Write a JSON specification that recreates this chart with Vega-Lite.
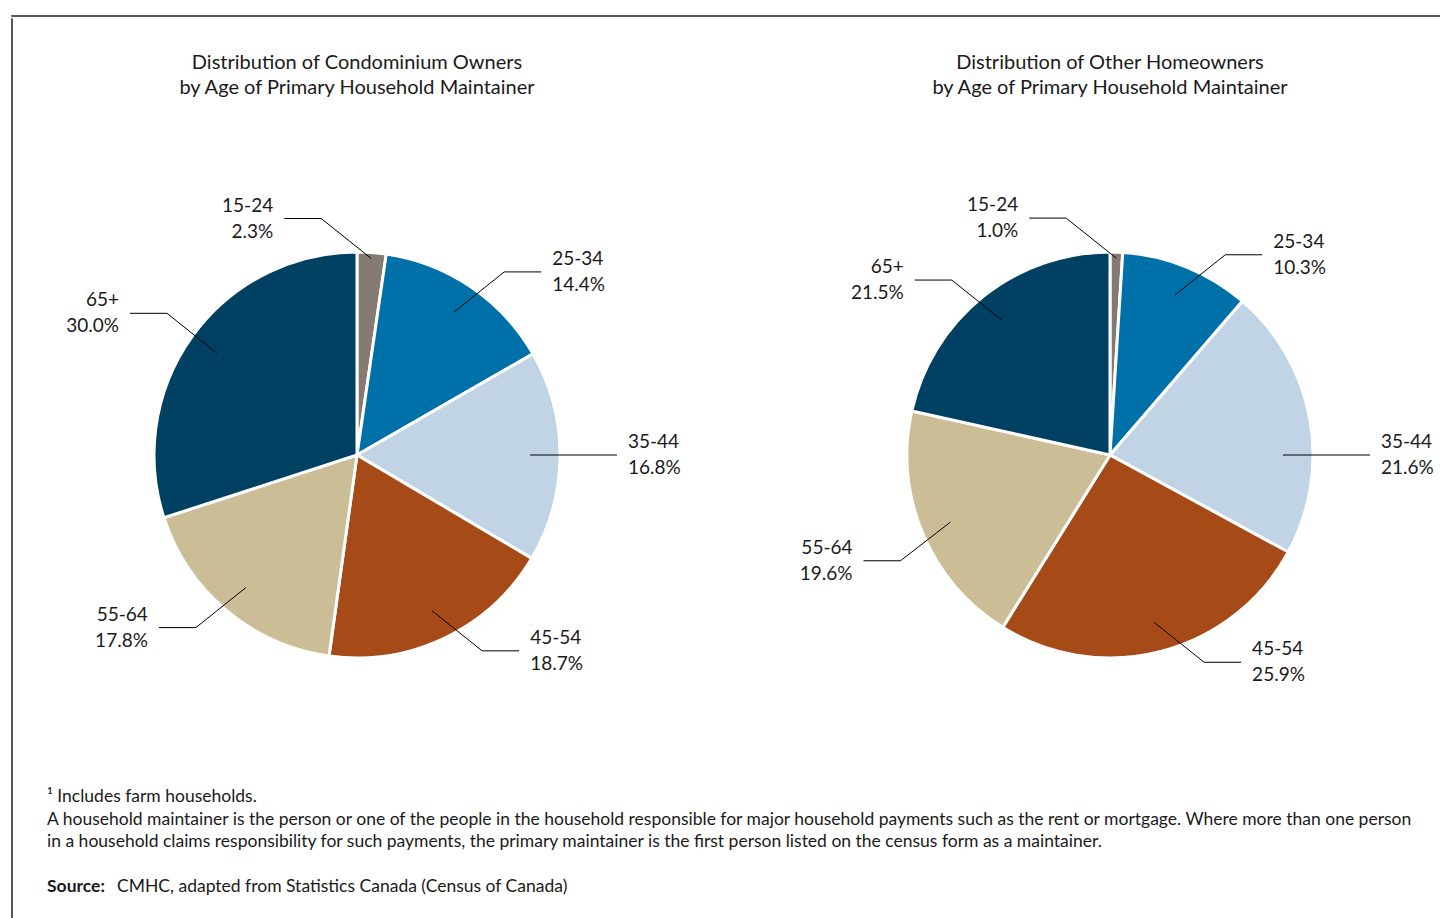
{
  "$schema": "https://vega.github.io/schema/vega-lite/v6.json",
  "padding": {"left": 10, "top": 14, "right": 0, "bottom": 0},
  "background": "white",
  "config": {"view": {"stroke": null}, "font": "Lato"},
  "datasets": {
    "pies": [
      {"chart": "Condo", "age": "15-24", "value": 2.3},
      {"chart": "Condo", "age": "25-34", "value": 14.4},
      {"chart": "Condo", "age": "35-44", "value": 16.8},
      {"chart": "Condo", "age": "45-54", "value": 18.7},
      {"chart": "Condo", "age": "55-64", "value": 17.8},
      {"chart": "Condo", "age": "65+", "value": 30.0},
      {"chart": "Other", "age": "15-24", "value": 1.0},
      {"chart": "Other", "age": "25-34", "value": 10.3},
      {"chart": "Other", "age": "35-44", "value": 21.6},
      {"chart": "Other", "age": "45-54", "value": 25.9},
      {"chart": "Other", "age": "55-64", "value": 19.6},
      {"chart": "Other", "age": "65+", "value": 21.5}
    ],
    "notes": [
      {"line": 1, "text": "¹ Includes farm households."},
      {"line": 2, "text": "A household maintainer is the person or one of the people in the household responsible for major household payments such as the rent or mortgage. Where more than one person"},
      {"line": 3, "text": "in a household claims responsibility for such payments, the primary maintainer is the first person listed on the census form as a maintainer."}
    ],
    "source": [
      {"line": 5, "head": "Source:", "text": "CMHC, adapted from Statistics Canada (Census of Canada)"}
    ]
  },
  "spacing": 0,
  "vconcat": [
    {
      "width": 1430, "height": 1,
      "view": {"stroke": "#555555", "strokeWidth": 1},
      "data": {"values": []},
      "mark": "point"
    },
    {
      "spacing": 12,
      "hconcat": [
        {
          "width": 1, "height": 900,
          "view": {"stroke": "#555555", "strokeWidth": 1},
          "data": {"values": []},
          "mark": "point"
        },
        {
          "spacing": 34,
          "vconcat": [
            {"width": 1, "height": 1, "data": {"values": []}, "mark": "point"},
            {
              "spacing": 89,
              "hconcat": [
                {
                  "width": 664, "height": 560,
                  "title": {"text": ["Distribution of Condominium Owners", "by Age of Primary Household Maintainer"], "fontSize": 20, "fontWeight": "normal", "lineHeight": 25, "offset": 77, "anchor": "middle", "frame": "group", "color": "#1a1a1a"},
                  "data": {"name": "pies"},
                  "transform": [
                    {"filter": "datum.chart === 'Condo'"},
                    {"joinaggregate": [{"op": "sum", "field": "value", "as": "total"}]},
                    {"window": [{"op": "sum", "field": "value", "as": "cum"}], "sort": [{"field": "age"}], "frame": [null, 0]},
                    {"calculate": "2*PI*(datum.cum - datum.value/2)/datum.total", "as": "mid"},
                    {"calculate": "abs(cos(datum.mid)) < 0.2 ? (sin(datum.mid) > 0 ? PI/2 : 3*PI/2) : datum.mid", "as": "ang"},
                    {"calculate": "sin(datum.ang) > 0.1 ? 1 : -1", "as": "side"},
                    {"calculate": "datum.value < 5 ? 197 : 173", "as": "ri"},
                    {"calculate": "datum.ri*sin(datum.ang)", "as": "x0"},
                    {"calculate": "-datum.ri*cos(datum.ang)", "as": "y0"},
                    {"calculate": "datum.x0 + 50*datum.side", "as": "x1"},
                    {"calculate": "datum.y0 - 40*clamp(2.5*cos(datum.ang), -1, 1)", "as": "y1"},
                    {"calculate": "datum.x1 + 37*datum.side", "as": "x2"},
                    {"calculate": "datum.age + '\\n' + format(datum.value, '.1f') + '%'", "as": "label"}
                  ],
                  "layer": [
                    {
                      "mark": {"type": "arc", "outerRadius": 203, "stroke": "white", "strokeWidth": 3},
                      "encoding": {
                        "theta": {"field": "value", "type": "quantitative", "stack": true},
                        "color": {"field": "age", "type": "nominal", "legend": null, "scale": {"domain": ["15-24", "25-34", "35-44", "45-54", "55-64", "65+"], "range": ["#857a73", "#0070a8", "#c0d4e6", "#a64b17", "#cbbd96", "#004163"]}},
                        "order": {"field": "age", "type": "ordinal"}
                      }
                    },
                    {
                      "mark": {"type": "rule", "color": "#000000", "strokeWidth": 1},
                      "encoding": {
                        "x": {"field": "x0", "type": "quantitative", "scale": {"domain": [-332, 332], "nice": false, "zero": false}, "axis": null},
                        "y": {"field": "y0", "type": "quantitative", "scale": {"domain": [-280, 280], "reverse": true, "nice": false, "zero": false}, "axis": null},
                        "x2": {"field": "x1"},
                        "y2": {"field": "y1"}
                      }
                    },
                    {
                      "mark": {"type": "rule", "color": "#000000", "strokeWidth": 1},
                      "encoding": {
                        "x": {"field": "x1", "type": "quantitative"},
                        "y": {"field": "y1", "type": "quantitative"},
                        "x2": {"field": "x2"},
                        "y2": {"field": "y1"}
                      }
                    },
                    {
                      "transform": [{"filter": "datum.side > 0"}],
                      "mark": {"type": "text", "align": "left", "baseline": "middle", "dx": 11, "dy": -13, "lineBreak": "\n", "lineHeight": 26, "fontSize": 19, "color": "#1a1a1a"},
                      "encoding": {
                        "x": {"field": "x2", "type": "quantitative"},
                        "y": {"field": "y1", "type": "quantitative"},
                        "text": {"field": "label", "type": "nominal"}
                      }
                    },
                    {
                      "transform": [{"filter": "datum.side < 0"}],
                      "mark": {"type": "text", "align": "right", "baseline": "middle", "dx": -11, "dy": -13, "lineBreak": "\n", "lineHeight": 26, "fontSize": 19, "color": "#1a1a1a"},
                      "encoding": {
                        "x": {"field": "x2", "type": "quantitative"},
                        "y": {"field": "y1", "type": "quantitative"},
                        "text": {"field": "label", "type": "nominal"}
                      }
                    }
                  ]
                },
                {
                  "width": 664, "height": 560,
                  "title": {"text": ["Distribution of Other Homeowners", "by Age of Primary Household Maintainer"], "fontSize": 20, "fontWeight": "normal", "lineHeight": 25, "offset": 77, "anchor": "middle", "frame": "group", "color": "#1a1a1a"},
                  "data": {"name": "pies"},
                  "transform": [
                    {"filter": "datum.chart === 'Other'"},
                    {"joinaggregate": [{"op": "sum", "field": "value", "as": "total"}]},
                    {"window": [{"op": "sum", "field": "value", "as": "cum"}], "sort": [{"field": "age"}], "frame": [null, 0]},
                    {"calculate": "2*PI*(datum.cum - datum.value/2)/datum.total", "as": "mid"},
                    {"calculate": "abs(cos(datum.mid)) < 0.2 ? (sin(datum.mid) > 0 ? PI/2 : 3*PI/2) : datum.mid", "as": "ang"},
                    {"calculate": "sin(datum.ang) > 0.1 ? 1 : -1", "as": "side"},
                    {"calculate": "datum.value < 5 ? 197 : 173", "as": "ri"},
                    {"calculate": "datum.ri*sin(datum.ang)", "as": "x0"},
                    {"calculate": "-datum.ri*cos(datum.ang)", "as": "y0"},
                    {"calculate": "datum.x0 + 50*datum.side", "as": "x1"},
                    {"calculate": "datum.y0 - 40*clamp(2.5*cos(datum.ang), -1, 1)", "as": "y1"},
                    {"calculate": "datum.x1 + 37*datum.side", "as": "x2"},
                    {"calculate": "datum.age + '\\n' + format(datum.value, '.1f') + '%'", "as": "label"}
                  ],
                  "layer": [
                    {
                      "mark": {"type": "arc", "outerRadius": 203, "stroke": "white", "strokeWidth": 3},
                      "encoding": {
                        "theta": {"field": "value", "type": "quantitative", "stack": true},
                        "color": {"field": "age", "type": "nominal", "legend": null, "scale": {"domain": ["15-24", "25-34", "35-44", "45-54", "55-64", "65+"], "range": ["#857a73", "#0070a8", "#c0d4e6", "#a64b17", "#cbbd96", "#004163"]}},
                        "order": {"field": "age", "type": "ordinal"}
                      }
                    },
                    {
                      "mark": {"type": "rule", "color": "#000000", "strokeWidth": 1},
                      "encoding": {
                        "x": {"field": "x0", "type": "quantitative", "scale": {"domain": [-332, 332], "nice": false, "zero": false}, "axis": null},
                        "y": {"field": "y0", "type": "quantitative", "scale": {"domain": [-280, 280], "reverse": true, "nice": false, "zero": false}, "axis": null},
                        "x2": {"field": "x1"},
                        "y2": {"field": "y1"}
                      }
                    },
                    {
                      "mark": {"type": "rule", "color": "#000000", "strokeWidth": 1},
                      "encoding": {
                        "x": {"field": "x1", "type": "quantitative"},
                        "y": {"field": "y1", "type": "quantitative"},
                        "x2": {"field": "x2"},
                        "y2": {"field": "y1"}
                      }
                    },
                    {
                      "transform": [{"filter": "datum.side > 0"}],
                      "mark": {"type": "text", "align": "left", "baseline": "middle", "dx": 11, "dy": -13, "lineBreak": "\n", "lineHeight": 26, "fontSize": 19, "color": "#1a1a1a"},
                      "encoding": {
                        "x": {"field": "x2", "type": "quantitative"},
                        "y": {"field": "y1", "type": "quantitative"},
                        "text": {"field": "label", "type": "nominal"}
                      }
                    },
                    {
                      "transform": [{"filter": "datum.side < 0"}],
                      "mark": {"type": "text", "align": "right", "baseline": "middle", "dx": -11, "dy": -13, "lineBreak": "\n", "lineHeight": 26, "fontSize": 19, "color": "#1a1a1a"},
                      "encoding": {
                        "x": {"field": "x2", "type": "quantitative"},
                        "y": {"field": "y1", "type": "quantitative"},
                        "text": {"field": "label", "type": "nominal"}
                      }
                    }
                  ]
                }
              ]
            },
            {
              "width": 1390, "height": 90,
              "layer": [
                {
                  "data": {"name": "notes"},
                  "mark": {"type": "text", "align": "left", "baseline": "middle", "dx": 22, "dy": 28, "fontSize": 17.5, "color": "#1a1a1a"},
                  "encoding": {
                    "x": {"value": 0},
                    "y": {"field": "line", "type": "quantitative", "scale": {"domain": [1, 5], "reverse": true, "nice": false, "zero": false}, "axis": null},
                    "text": {"field": "text", "type": "nominal"}
                  }
                },
                {
                  "data": {"name": "source"},
                  "mark": {"type": "text", "align": "left", "baseline": "middle", "dx": 22, "dy": 28, "fontSize": 17.5, "fontWeight": "bold", "color": "#1a1a1a"},
                  "encoding": {
                    "x": {"value": 0},
                    "y": {"field": "line", "type": "quantitative"},
                    "text": {"field": "head", "type": "nominal"}
                  }
                },
                {
                  "data": {"name": "source"},
                  "mark": {"type": "text", "align": "left", "baseline": "middle", "dx": 92, "dy": 28, "fontSize": 17.5, "color": "#1a1a1a"},
                  "encoding": {
                    "x": {"value": 0},
                    "y": {"field": "line", "type": "quantitative"},
                    "text": {"field": "text", "type": "nominal"}
                  }
                }
              ]
            }
          ]
        }
      ]
    }
  ]
}
